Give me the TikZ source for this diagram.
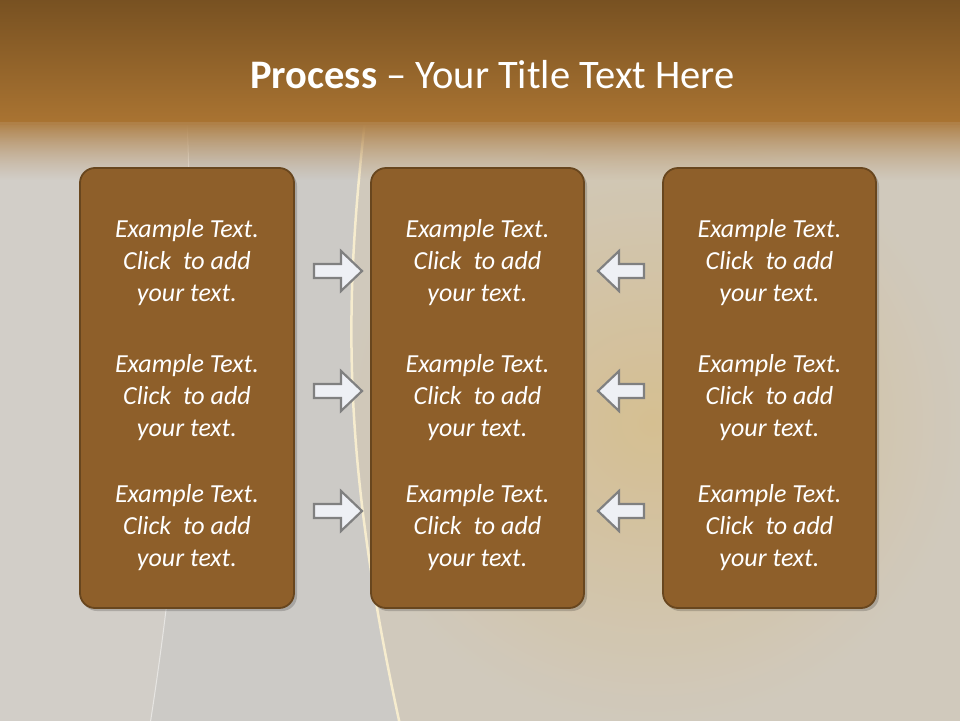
\documentclass[tikz,border=0pt]{standalone}
\usepackage{fontspec}
\setmainfont{Carlito}
\usetikzlibrary{fadings,shadings}
\definecolor{boxfill}{RGB}{142,95,42}
\definecolor{boxline}{RGB}{104,70,30}
\definecolor{bandtop}{RGB}{118,80,33}
\definecolor{bandbot}{RGB}{170,116,50}
\definecolor{bgbase}{RGB}{206,202,195}
\definecolor{bgleft}{RGB}{210,206,200}
\definecolor{bgmid}{RGB}{204,202,198}
\definecolor{goldc}{RGB}{214,190,140}
\definecolor{goldo}{RGB}{209,201,188}
\definecolor{creamline}{RGB}{246,236,206}
\definecolor{arrowfill}{RGB}{238,240,245}
\definecolor{arrowline}{RGB}{128,128,128}
\tikzset{
  stagebox/.style={fill=boxfill, draw=boxline, line width=1.8pt, rounded corners=15pt},
  boxshadow/.style={fill=black, opacity=0.18, rounded corners=15pt},
  bodytext/.style={text=white, align=center, font=\fontsize{26}{32}\selectfont\itshape, inner sep=0pt},
  blockarrow/.style={fill=arrowfill, draw=arrowline, line width=2.2pt, line join=miter}
}
\newcommand{\exampletext}{Example Text.\\Click\ \ to add\\your text.}
\begin{document}
\begin{tikzpicture}[x=1pt,y=-1pt]
\useasboundingbox (0,0) rectangle (960,720);
\clip (0,0) rectangle (960,720);
% background
\fill[bgbase] (-5,-5) rectangle (965,725);
% right textured gold region
\shade[inner color=goldc, outer color=goldo, opacity=0.9]
  (365,120) .. controls (345,300) and (340,450) .. (400,725) -- (965,725) -- (965,120) -- cycle;
% middle smooth band
\fill[bgmid] (187,120) .. controls (195,300) and (185,500) .. (150,725) -- (400,725)
  .. controls (340,450) and (345,300) .. (365,120) -- cycle;
% left region
\fill[bgleft] (-5,120) -- (187,120) .. controls (195,300) and (185,500) .. (150,725) -- (-5,725) -- cycle;
% curves
\draw[creamline, line width=2.5pt] (365,120) .. controls (345,300) and (340,450) .. (400,725);
\draw[white, opacity=0.5, line width=1pt] (187,120) .. controls (195,300) and (185,500) .. (150,725);
% top band
\shade[top color=bandtop, bottom color=bandbot] (-5,-5) rectangle (965,124);
\shade[top color=bandbot!85!bgbase, bottom color=bandbot!50!bgbase, path fading=south] (-5,123) rectangle (965,180);
% title
\node[anchor=base, text=white, font=\fontsize{40.5}{48}\selectfont, inner sep=0pt] (title) at (492.5,88)
  {\textbf{Process} – Your Title Text Here};
% boxes
\fill[boxshadow] (82,171) rectangle (297,611);
\fill[boxshadow] (373,171) rectangle (587,611);
\fill[boxshadow] (665,171) rectangle (879,611);
\path[stagebox] (80,168) rectangle (294,608);
\path[stagebox] (371,168) rectangle (584,608);
\path[stagebox] (663,168) rectangle (876,608);
\foreach \cx/\nm in {187/l,477.5/m,769.5/r}{
  \foreach \cy/\k in {263/1,398/2,528/3}{
    \node[bodytext] (t\nm\k) at (\cx,\cy) {\exampletext};
  }
}
% arrows
\foreach \y/\k in {271/1,391/2,511/3}{
  \draw[blockarrow] (314,\y-7) -- (341,\y-7) -- (341,\y-20) -- (362,\y) -- (341,\y+20) -- (341,\y+7) -- (314,\y+7) -- cycle;
  \draw[blockarrow] (644,\y-7) -- (619,\y-7) -- (619,\y-20) -- (598,\y) -- (619,\y+20) -- (619,\y+7) -- (644,\y+7) -- cycle;
}
\end{tikzpicture}
\end{document}
